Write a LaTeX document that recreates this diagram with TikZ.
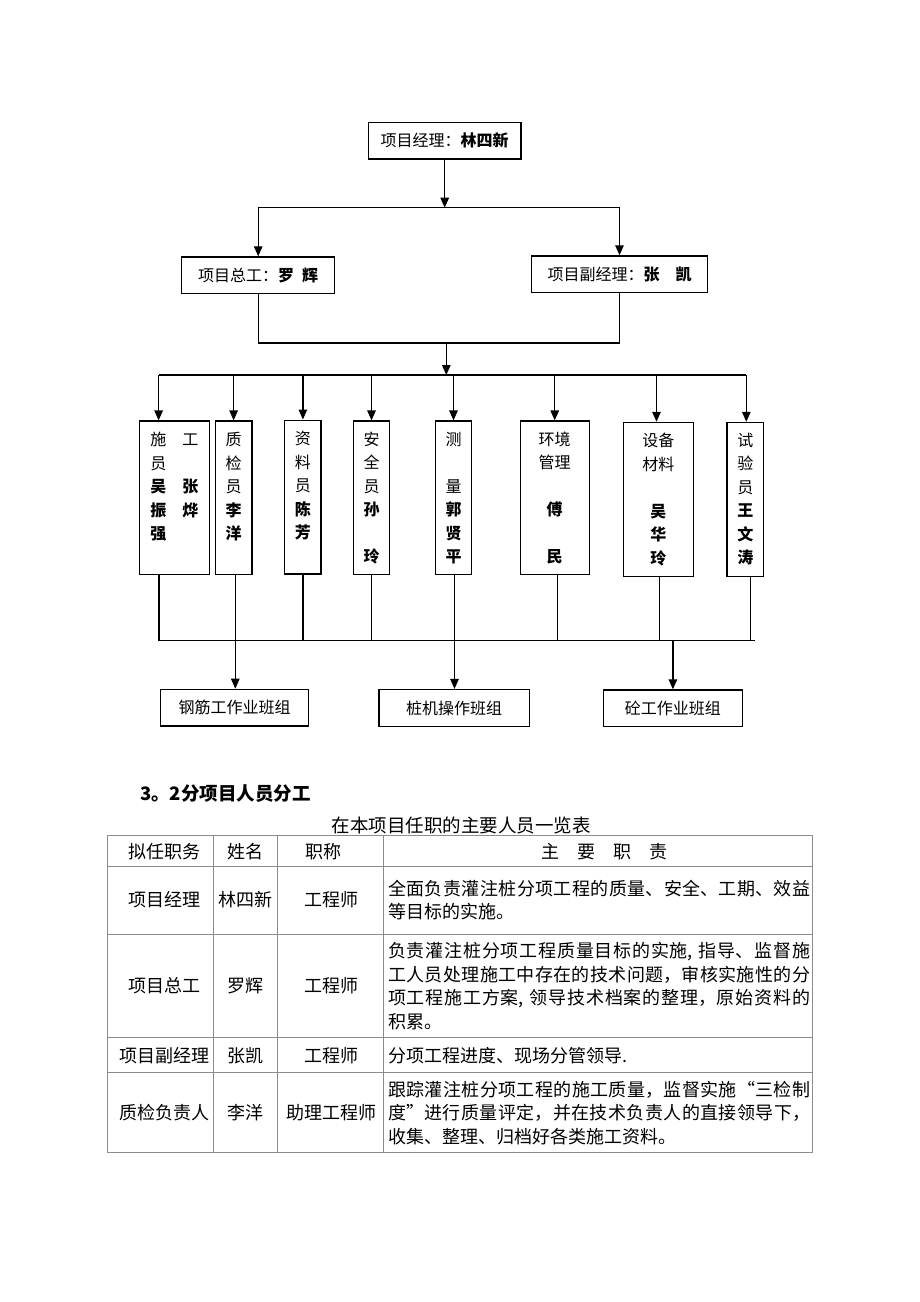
\documentclass[tikz,border=0pt]{standalone}
\usepackage{fontspec}
\setmainfont{Noto Sans CJK SC}
\usetikzlibrary{arrows.meta}
\XeTeXlinebreaklocale "zh"
\XeTeXlinebreakskip = 0pt plus 1pt
\tikzset{hd/.style = {draw, inner sep=0pt, minimum height=36.7pt, font=\fontsize{16}{20}\selectfont},
           vb/.style = {draw, inner sep=0pt, minimum height=153.7pt, align=center, font=\fontsize{16}{23.5}\selectfont},
           tx/.style = {inner sep=0pt, font=\fontsize{18}{23.5}\selectfont},
           ds/.style = {anchor=west, inner sep=0pt, text width=422pt, align=justify, font=\fontsize{18}{23.5}\selectfont},
           tl/.style = {line width=1pt, black!45}}

\begin{document}
\begin{tikzpicture}[x=1pt, y=-1pt, line width=1.3pt, >={Triangle[length=10pt,width=8.5pt]}]
    \useasboundingbox (0,0) rectangle (920,1302);
    % organisation chart
    \node[hd, minimum width=152.7pt] (pm) at (444.7,140.7) {项目经理：\textbf{林四新}};
    \node[hd, minimum width=153pt]   (ce) at (258.2,275.3) {项目总工：\textbf{罗\hspace{0.5em}辉}};
    \node[hd, minimum width=175.6pt] (dm) at (619.5,274.3) {项目副经理：\textbf{张　凯}};
    \coordinate (tb) at (444.7,207.7);
    \coordinate (mb) at (446.3,343);
    \coordinate (ub) at (446.3,375);
    \coordinate (lb) at (456,640.7);
    \draw[->] (pm.south) -- (tb);
    \draw (ce.north |- tb) -- (dm.north |- tb);
    \draw[->] (ce.north |- tb) -- (ce.north);
    \draw[->] (dm.north |- tb) -- (dm.north);
    \draw (ce.south) -- (ce.south |- mb) -- (dm.south |- mb) -- (dm.south);
    \draw[->] (mb) -- (ub);

    \node[vb, minimum width=70pt, align=left] (b1) at (174.3,497.9) {施　工\\员\\\textbf{吴　张}\\\textbf{振　烨}\\\textbf{强}\\~};
    \node[vb, minimum width=36.7pt] (b2) at (233.6,497.9) {质\\检\\员\\\textbf{李}\\\textbf{洋}\\~};
    \node[vb, minimum width=36.3pt] (b3) at (302.9,497.0) {资\\料\\员\\\textbf{陈}\\\textbf{芳}\\~};
    \node[vb, minimum width=36.3pt] (b4) at (371.5,497.9) {安\\全\\员\\\textbf{孙}\\~\\\textbf{玲}};
    \node[vb, minimum width=36.3pt] (b5) at (453.5,497.9) {测\\~\\量\\\textbf{郭}\\\textbf{贤}\\\textbf{平}};
    \node[vb, minimum width=69pt]   (b6) at (554.7,497.9) {环境\\管理\\~\\\textbf{傅}\\~\\\textbf{民}};
    \node[vb, minimum width=70pt]   (b7) at (658.3,499.3) {设备\\材料\\~\\\textbf{吴}\\\textbf{华}\\\textbf{玲}};
    \node[vb, minimum width=36.7pt] (b8) at (745.4,499.3) {试\\验\\员\\\textbf{王}\\\textbf{文}\\\textbf{涛}};

    \draw ([xshift=-15.7pt]b1.north |- ub) -- ([xshift=0.9pt]b8.north |- ub);
    \draw[->] ([xshift=-15.7pt]b1.north |- ub) -- ([xshift=-15.7pt]b1.north);
    \draw[->] (b2.north |- ub) -- (b2.north);
    \draw[->] (b3.north |- ub) -- (b3.north);
    \draw[->] (b4.north |- ub) -- (b4.north);
    \draw[->] (b5.north |- ub) -- (b5.north);
    \draw[->] (b6.north |- ub) -- (b6.north);
    \draw[->] ([xshift=-1.8pt]b7.north |- ub) -- ([xshift=-1.8pt]b7.north);
    \draw[->] ([xshift=0.9pt]b8.north |- ub) -- ([xshift=0.9pt]b8.north);

    \draw ([xshift=-15.3pt]b1.south) -- ([xshift=-15.3pt]b1.south |- lb);
    \draw ([xshift=1.7pt]b2.south) -- ([xshift=1.7pt]b2.south |- lb);
    \draw (b3.south) -- (b3.south |- lb);
    \draw (b4.south) -- (b4.south |- lb);
    \draw ([xshift=1pt]b5.south) -- ([xshift=1pt]b5.south |- lb);
    \draw ([xshift=3.1pt]b6.south) -- ([xshift=3.1pt]b6.south |- lb);
    \draw ([xshift=1.1pt]b7.south) -- ([xshift=1.1pt]b7.south |- lb);
    \draw ([xshift=5.4pt]b8.south) -- ([xshift=5.4pt]b8.south |- lb);
    \draw ([xshift=-16.5pt]b1.south |- lb) -- ([xshift=9.9pt]b8.south |- lb);

    \node[hd, minimum width=147.8pt] (g1) at (234.5,707.7) {钢筋工作业班组};
    \node[hd, minimum width=150.2pt] (g2) at (454.1,707.9) {桩机操作班组};
    \node[hd, minimum width=138.7pt] (g3) at (672.9,708.3) {砼工作业班组};
    \draw[->] ([xshift=0.8pt]g1.north |- lb) -- ([xshift=0.8pt]g1.north);
    \draw[->] ([xshift=0.4pt]g2.north |- lb) -- ([xshift=0.4pt]g2.north);
    \draw[->] (g3.north |- lb) -- (g3.north);

    % staff table
    \node[anchor=west, inner sep=0pt, font=\bfseries\fontsize{18.5}{22}\selectfont] (hdg) at (139.5,793.5) {3。2分项目人员分工};
    \node[tx, font=\fontsize{18.5}{22}\selectfont] (cap) at (461,825) {在本项目任职的主要人员一览表};

    \draw[tl] (107.3,835) rectangle (812.3,1152.7);
    \draw[tl] (107.3,866) -- (812.3,866);
    \draw[tl] (107.3,934) -- (812.3,934);
    \draw[tl] (107.3,1037.8) -- (812.3,1037.8);
    \draw[tl] (107.3,1072.8) -- (812.3,1072.8);
    \draw[tl] (213.3,835) -- (213.3,1152.7);
    \draw[tl] (277.7,835) -- (277.7,1152.7);
    \draw[tl] (383.8,835) -- (383.8,1152.7);

    \node[tx] (h1) at (164.5,851.2) {拟任职务};
    \node[tx] (h2) at (245.5,851.2) {姓名};
    \node[tx] (h3) at (323,851.2) {职称};
    \node[tx] (h4) at (604.5,851.2) {主　要　职　责};

    \node[tx] (p1) at (164.5,900) {项目经理};
    \node[tx] (n1) at (245.5,900) {林四新};
    \node[tx] (t1) at (331.5,900) {工程师};
    \node[ds] (d1) at (387.5,900) {全面负责灌注桩分项工程的质量、安全、工期、效益\linebreak 等目标的实施。};

    \node[tx] (p2) at (164.5,986) {项目总工};
    \node[tx] (n2) at (245.5,986) {罗辉};
    \node[tx] (t2) at (331.5,986) {工程师};
    \node[ds] (d2) at (387.5,986) {负责灌注桩分项工程质量目标的实施, 指导、监督施\linebreak 工人员处理施工中存在的技术问题，审核实施性的分\linebreak 项工程施工方案, 领导技术档案的整理，原始资料的\linebreak 积累。};

    \node[tx] (p3) at (164,1055.5) {项目副经理};
    \node[tx] (n3) at (245.5,1055.5) {张凯};
    \node[tx] (t3) at (331.5,1055.5) {工程师};
    \node[ds] (d3) at (387.5,1055.5) {分项工程进度、现场分管领导.};

    \node[tx] (p4) at (164,1113) {质检负责人};
    \node[tx] (n4) at (245.5,1113) {李洋};
    \node[tx] (t4) at (331,1113) {助理工程师};
    \node[ds] (d4) at (387.5,1113) {跟踪灌注桩分项工程的施工质量，监督实施“三检制\linebreak 度”进行质量评定，并在技术负责人的直接领导下，\linebreak 收集、整理、归档好各类施工资料。};
\end{tikzpicture}
\end{document}
